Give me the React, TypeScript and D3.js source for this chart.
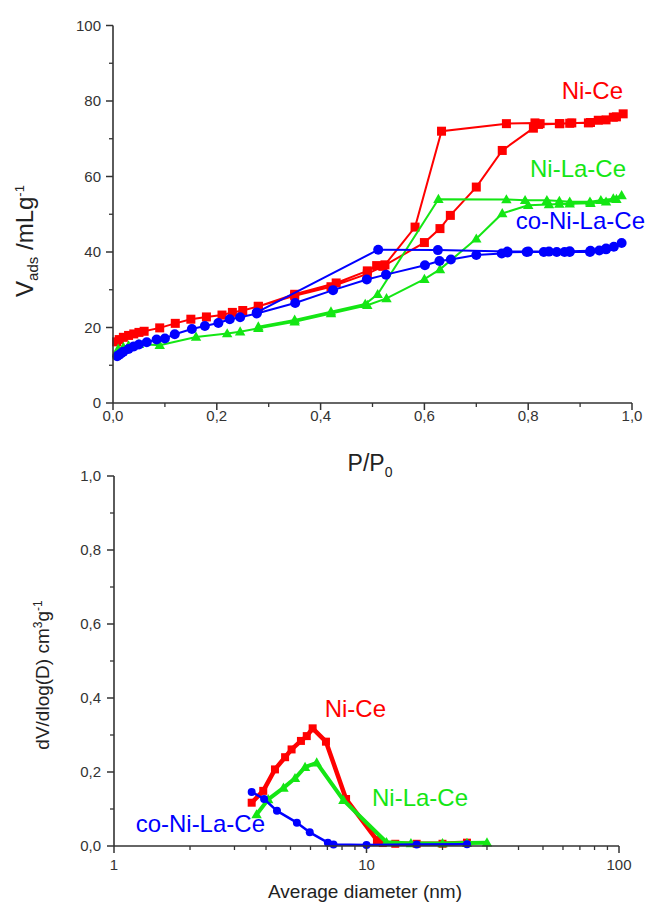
import React from "react";
import * as d3 from "d3";

// ---------- Top chart data (N2 isotherms) ----------
const niCeAds: [number, number][] = [
  [0.007, 16.2], [0.012, 16.8], [0.02, 17.4], [0.03, 17.9], [0.04, 18.3], [0.05, 18.7], [0.06, 19.0],
  [0.09, 19.9], [0.12, 21.1], [0.15, 22.2], [0.18, 22.8], [0.21, 23.3], [0.23, 24.0], [0.25, 24.5],
  [0.28, 25.6], [0.35, 28.4], [0.42, 30.8], [0.49, 34.2], [0.52, 36.2], [0.6, 42.5], [0.63, 46.2],
  [0.65, 49.7], [0.7, 57.2], [0.75, 66.9], [0.81, 72.8], [0.82, 73.8], [0.86, 74.0], [0.88, 74.1],
  [0.92, 74.3], [0.95, 75.0], [0.97, 75.8], [0.983, 76.6],
];
const niCeDes: [number, number][] = [
  [0.983, 76.6], [0.964, 75.7], [0.935, 74.9], [0.916, 74.2], [0.884, 74.2], [0.861, 74.0],
  [0.823, 74.0], [0.813, 74.2], [0.758, 74.0], [0.633, 72.0], [0.582, 46.6], [0.524, 36.6],
  [0.508, 36.4], [0.49, 35.0], [0.43, 31.8], [0.35, 28.8], [0.28, 25.6],
];
const niLaCeAds: [number, number][] = [
  [0.01, 14.3], [0.02, 14.8], [0.03, 15.2], [0.05, 15.6], [0.09, 15.3], [0.16, 17.5], [0.22, 18.4],
  [0.245, 18.9], [0.28, 19.8], [0.35, 21.5], [0.42, 23.7], [0.49, 25.9], [0.527, 27.7], [0.6, 32.8],
  [0.63, 35.4], [0.7, 43.5], [0.75, 50.2], [0.8, 52.4], [0.84, 52.6], [0.86, 52.7], [0.88, 52.8],
  [0.92, 52.9], [0.95, 53.3], [0.97, 54.0], [0.98, 55.0],
];
const niLaCeDes: [number, number][] = [
  [0.98, 55.0], [0.964, 54.1], [0.94, 53.7], [0.919, 53.3], [0.88, 53.3], [0.86, 53.5], [0.836, 53.7],
  [0.794, 53.7], [0.758, 53.9], [0.627, 54.0], [0.51, 28.8], [0.486, 26.2], [0.42, 24.2],
  [0.35, 22.0], [0.28, 20.2],
];
const coAds: [number, number][] = [
  [0.008, 12.4], [0.012, 12.8], [0.016, 13.2], [0.02, 13.6], [0.03, 14.3], [0.04, 15.0], [0.05, 15.5],
  [0.065, 16.1], [0.084, 16.8], [0.1, 17.1], [0.119, 18.2], [0.152, 19.6], [0.177, 20.4], [0.203, 21.2],
  [0.225, 22.2], [0.245, 22.7], [0.277, 23.7], [0.351, 26.5], [0.424, 29.9], [0.489, 32.7], [0.526, 34.0],
  [0.601, 36.5], [0.629, 37.6], [0.651, 38.0], [0.7, 39.2], [0.749, 39.6], [0.76, 39.9], [0.797, 40.0],
  [0.83, 40.0], [0.855, 40.0], [0.87, 40.0], [0.88, 40.0], [0.919, 40.0], [0.937, 40.4], [0.95, 40.7],
  [0.965, 41.4], [0.98, 42.4],
];
const coDes: [number, number][] = [
  [0.98, 42.4], [0.95, 40.9], [0.92, 40.3], [0.88, 40.2], [0.84, 40.1], [0.8, 40.1], [0.76, 40.1],
  [0.626, 40.5], [0.511, 40.6], [0.277, 24.0],
];

// ---------- Bottom chart data (pore size distribution) ----------
const niCeD = [3.51, 3.9, 4.34, 4.76, 5.05, 5.5, 5.8, 6.12, 6.91, 8.3, 11.0, 11.6, 13.0, 15.8, 20.0, 25.0];
const niCeV = [0.117, 0.149, 0.207, 0.240, 0.261, 0.284, 0.297, 0.318, 0.282, 0.127, 0.016, 0.008, 0.006, 0.006, 0.006, 0.009];
const niLaCeD = [3.67, 4.08, 4.69, 5.21, 5.71, 6.35, 8.1, 12.0, 15.0, 20.0, 25.0, 30.0];
const niLaCeV = [0.085, 0.126, 0.157, 0.183, 0.213, 0.225, 0.124, 0.010, 0.007, 0.007, 0.008, 0.009];
const coD = [3.51, 3.93, 4.42, 5.3, 5.96, 7.03, 7.4, 10.0, 15.8, 25.0];
const coV = [0.146, 0.127, 0.095, 0.063, 0.037, 0.009, 0.004, 0.003, 0.004, 0.005];

// ---------- Ticks / labels ----------
const topXTicks = [0, 0.2, 0.4, 0.6, 0.8, 1.0];
const topXMinor = [0.1, 0.3, 0.5, 0.7, 0.9];
const topYTicks = [0, 20, 40, 60, 80, 100];
const topYMinor = [10, 30, 50, 70, 90];
const botYTicks = [0, 0.2, 0.4, 0.6, 0.8, 1.0];
const botYMinor = [0.1, 0.3, 0.5, 0.7, 0.9];
const botXTicks = [1, 10, 100];
const botXMinor = [2, 3, 4, 5, 6, 7, 8, 9, 20, 30, 40, 50, 60, 70, 80, 90];

const RED = "#ff0000";
const GREEN = "#14e614";
const BLUE = "#0000ff";
const AXIS = "#333333";
const FONT = "'Liberation Sans', Arial, sans-serif";

const fmt = (v: number) => v.toFixed(1).replace(".", ",");

function Marker({ shape, x, y, size, color }: { shape: string; x: number; y: number; size: number; color: string }) {
  if (shape === "square") {
    return <rect x={x - size / 2} y={y - size / 2} width={size} height={size} fill={color} />;
  }
  if (shape === "circle") {
    return <circle cx={x} cy={y} r={size / 2} fill={color} />;
  }
  const h = size * 1.0;
  const pts = `${x},${y - h * 0.6} ${x - size * 0.58},${y + h * 0.42} ${x + size * 0.58},${y + h * 0.42}`;
  return <polygon points={pts} fill={color} />;
}

export default function App() {
  // top scales
  const tx = d3.scaleLinear().domain([0, 1]).range([113, 632]);
  const ty = d3.scaleLinear().domain([0, 100]).range([403, 25.5]);
  // bottom scales
  const bx = d3.scaleLog().domain([1, 100]).range([114, 619]);
  const by = d3.scaleLinear().domain([0, 1]).range([846, 476]);

  const topLine = d3.line<[number, number]>().x((d) => tx(d[0])).y((d) => ty(d[1]));
  const botLine = d3.line<[number, number]>().x((d) => bx(d[0])).y((d) => by(d[1]));

  const topSeries = [
    { ads: niCeAds, des: niCeDes, color: RED, shape: "square", size: 9 },
    { ads: niLaCeAds, des: niLaCeDes, color: GREEN, shape: "triangle", size: 9 },
    { ads: coAds, des: coDes, color: BLUE, shape: "circle", size: 10 },
  ];
  const botSeries = [
    { d: niCeD, v: niCeV, color: RED, shape: "square", size: 8, w: 4.5 },
    { d: niLaCeD, v: niLaCeV, color: GREEN, shape: "triangle", size: 9, w: 4 },
    { d: coD, v: coV, color: BLUE, shape: "circle", size: 8, w: 2.5 },
  ];

  const tickFont = 15;

  return (
    <svg width={650} height={905} style={{ position: "absolute", left: 0, top: 0, background: "#fff" }} fontFamily={FONT}>
      <rect x={0} y={0} width={650} height={905} fill="#fff" />
      {/* ---------------- TOP CHART ---------------- */}
      <g>
        {topSeries.map((s, i) => (
          <g key={"ts" + i}>
            <path d={topLine([...s.ads, ...s.des.slice(1)]) || ""} fill="none" stroke={s.color} strokeWidth={2} />
            {[...s.ads, ...s.des.slice(1)].map((p, j) => (
              <Marker key={j} shape={s.shape} x={tx(p[0])} y={ty(p[1])} size={s.size} color={s.color} />
            ))}
          </g>
        ))}
        {/* axes */}
        <line x1={113} x2={113} y1={ty(100)} y2={ty(0)} stroke={AXIS} strokeWidth={1.6} />
        <line x1={113} x2={632} y1={403} y2={403} stroke={AXIS} strokeWidth={1.6} />
        {topYTicks.map((t) => (
          <g key={"ty" + t}>
            <line x1={106} x2={113} y1={ty(t)} y2={ty(t)} stroke={AXIS} strokeWidth={1.5} />
            <text x={101} y={ty(t)} dy="0.36em" textAnchor="end" fontSize={tickFont} fill={AXIS}>{t}</text>
          </g>
        ))}
        {topYMinor.map((t) => (
          <line key={"tym" + t} x1={109} x2={113} y1={ty(t)} y2={ty(t)} stroke={AXIS} strokeWidth={1.3} />
        ))}
        {topXTicks.map((t) => (
          <g key={"tx" + t}>
            <line x1={tx(t)} x2={tx(t)} y1={403} y2={410} stroke={AXIS} strokeWidth={1.5} />
            <text x={tx(t)} y={421} textAnchor="middle" fontSize={tickFont} fill={AXIS}>{fmt(t)}</text>
          </g>
        ))}
        {topXMinor.map((t) => (
          <line key={"txm" + t} x1={tx(t)} x2={tx(t)} y1={403} y2={407} stroke={AXIS} strokeWidth={1.3} />
        ))}
        <text x={370} y={471} textAnchor="middle" fontSize={23} fill="#222">
          P/P<tspan fontSize={14} dy={6}>0</tspan>
        </text>
        <text transform="translate(33,241) rotate(-90)" textAnchor="middle" fontSize={24} fill="#222">
          V<tspan fontSize={15} dy={5}>ads</tspan>
          <tspan dy={-5}> /mLg</tspan>
          <tspan fontSize={13} dy={-9}>-1</tspan>
        </text>
        <text x={623} y={99} textAnchor="end" fontSize={24} fill={RED}>Ni-Ce</text>
        <text x={626} y={177} textAnchor="end" fontSize={24} fill={GREEN}>Ni-La-Ce</text>
        <text x={645} y={229} textAnchor="end" fontSize={24} fill={BLUE}>co-Ni-La-Ce</text>
      </g>

      {/* ---------------- BOTTOM CHART ---------------- */}
      <g>
        {botSeries.map((s, i) => {
          const pts = s.d.map((d, j) => [d, s.v[j]] as [number, number]);
          return (
            <g key={"bs" + i}>
              <path d={botLine(pts) || ""} fill="none" stroke={s.color} strokeWidth={s.w} strokeLinejoin="round" />
              {pts.map((p, j) => (
                <Marker key={j} shape={s.shape} x={bx(p[0])} y={by(p[1])} size={s.size} color={s.color} />
              ))}
            </g>
          );
        })}
        <line x1={114} x2={114} y1={by(1)} y2={by(0)} stroke={AXIS} strokeWidth={1.6} />
        <line x1={114} x2={619} y1={846} y2={846} stroke={AXIS} strokeWidth={1.6} />
        {botYTicks.map((t) => (
          <g key={"by" + t}>
            <line x1={107} x2={114} y1={by(t)} y2={by(t)} stroke={AXIS} strokeWidth={1.5} />
            <text x={101} y={by(t)} dy="0.36em" textAnchor="end" fontSize={tickFont} fill={AXIS}>{fmt(t)}</text>
          </g>
        ))}
        {botYMinor.map((t) => (
          <line key={"bym" + t} x1={110} x2={114} y1={by(t)} y2={by(t)} stroke={AXIS} strokeWidth={1.3} />
        ))}
        {botXTicks.map((t) => (
          <g key={"bx" + t}>
            <line x1={bx(t)} x2={bx(t)} y1={846} y2={853} stroke={AXIS} strokeWidth={1.5} />
            <text x={bx(t)} y={870} textAnchor="middle" fontSize={tickFont} fill={AXIS}>{t}</text>
          </g>
        ))}
        {botXMinor.map((t) => (
          <line key={"bxm" + t} x1={bx(t)} x2={bx(t)} y1={846} y2={850} stroke={AXIS} strokeWidth={1.3} />
        ))}
        <text x={365} y={898} textAnchor="middle" fontSize={19} fill="#222">Average diameter (nm)</text>
        <text transform="translate(49,675) rotate(-90)" textAnchor="middle" fontSize={19} fill="#222">
          dV/dlog(D) cm<tspan fontSize={12} dy={-7}>3</tspan>
          <tspan dy={7}>g</tspan>
          <tspan fontSize={12} dy={-7}>-1</tspan>
        </text>
        <text x={386} y={717} textAnchor="end" fontSize={24} fill={RED}>Ni-Ce</text>
        <text x={468} y={806} textAnchor="end" fontSize={24} fill={GREEN}>Ni-La-Ce</text>
        <text x={265} y={832} textAnchor="end" fontSize={24} fill={BLUE}>co-Ni-La-Ce</text>
      </g>
    </svg>
  );
}
